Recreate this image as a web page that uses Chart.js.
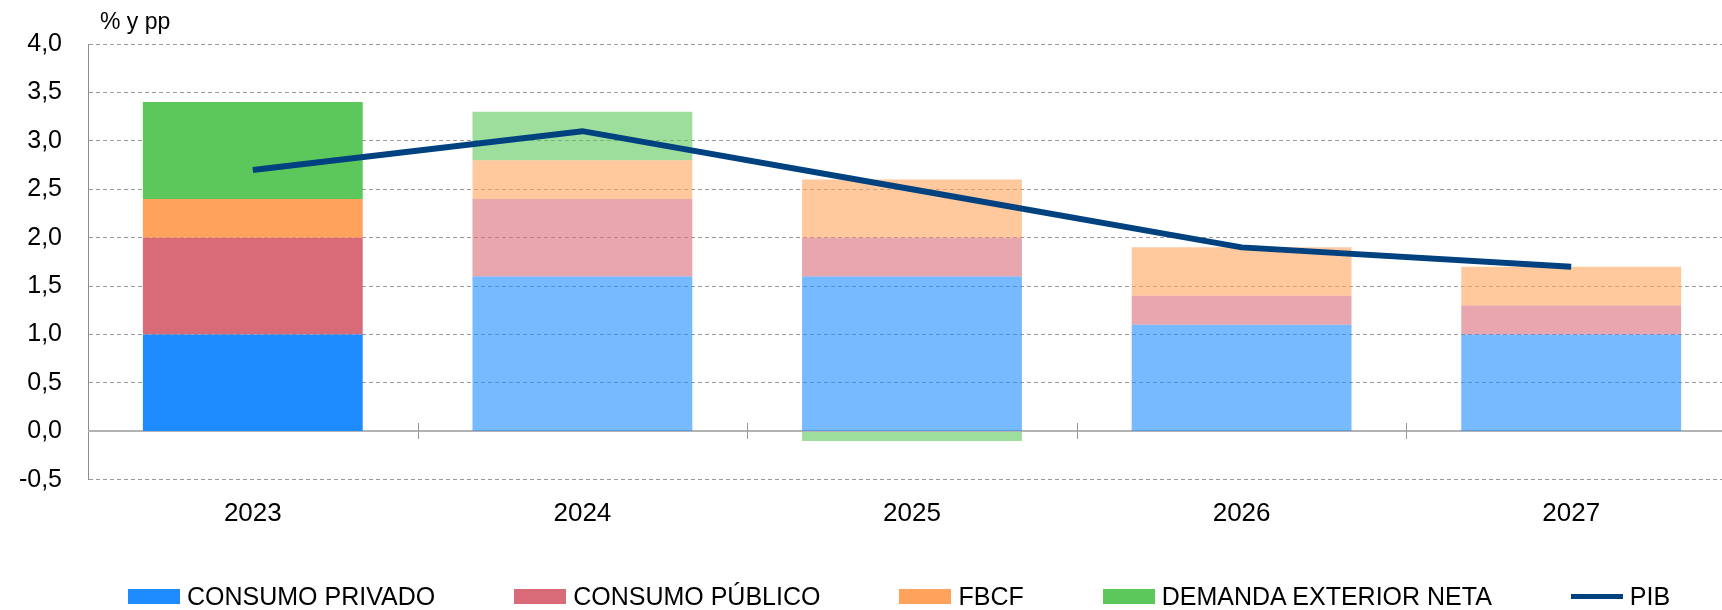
<!DOCTYPE html>
<html>
<head>
<meta charset="utf-8">
<script src="https://cdn.jsdelivr.net/npm/chart.js@4.4.0/dist/chart.umd.min.js"></script>
<style>
  html, body { margin: 0; padding: 0; background: #fff; overflow: hidden; }
  #wrap { position: relative; width: 1722px; height: 610px; overflow: hidden; }
  canvas { position: absolute; left: 0; top: 0; }
  #legend { position: absolute; left: 128px; top: 584px; display: flex; align-items: center;
            font: 25px "Liberation Sans", Arial, sans-serif; line-height: 25px; color: #000; white-space: nowrap; }
  .item { display: flex; align-items: center; margin-right: 79px; }
  .swatch { width: 52px; height: 15px; margin-right: 7px; }
  .swatch.line { height: 5px; }
</style>
</head>
<body>
<div id="wrap">
  <canvas id="chart" width="1745" height="610"></canvas>
  <div id="legend"></div>
</div>
<script>
// contributions to growth, % y pp
const years = ['2023', '2024', '2025', '2026', '2027'];
const consumoPrivado = [1.0, 1.6, 1.6, 1.1, 1.0];
const consumoPublico = [1.0, 0.8, 0.4, 0.3, 0.3];
const fbcf = [0.4, 0.4, 0.6, 0.5, 0.4];
const demandaExterior = [1.0, 0.5, -0.1, 0, 0];
const pib = [2.7, 3.1, 2.5, 1.9, 1.7];

const FONT = '"Liberation Sans", Arial, sans-serif';

// first year solid, projections lighter (see-through)
const shade = (rgb) => years.map((y, i) => i === 0 ? `rgb(${rgb})` : `rgba(${rgb},0.6)`);

const barSeries = [
  { label: 'CONSUMO PRIVADO', data: consumoPrivado, rgb: '30,140,255' },
  { label: 'CONSUMO PÚBLICO', data: consumoPublico, rgb: '217,107,120' },
  { label: 'FBCF', data: fbcf, rgb: '255,163,92' },
  { label: 'DEMANDA EXTERIOR NETA', data: demandaExterior, rgb: '92,200,92' },
];
const pibColor = '#00417f';

const datasets = barSeries.map(s => ({
  type: 'bar',
  label: s.label,
  data: s.data,
  backgroundColor: shade(s.rgb),
  borderWidth: 0,
  barPercentage: 0.667,
  categoryPercentage: 1,
  order: 2,
}));
datasets.push({
  type: 'line',
  label: 'PIB',
  data: pib,
  borderColor: pibColor,
  borderWidth: 6,
  pointRadius: 0,
  tension: 0,
  fill: false,
  borderJoinStyle: 'miter',
  order: 1,
});

const extras = {
  id: 'extras',
  beforeDatasetsDraw(chart) {
    const { ctx, chartArea, scales: { x, y } } = chart;
    const y0 = Math.round(y.getPixelForValue(0));
    ctx.save();
    ctx.strokeStyle = '#b3b3b3';
    ctx.lineWidth = 2;
    ctx.beginPath();
    ctx.moveTo(chartArea.left, y0);
    ctx.lineTo(chartArea.right, y0);
    ctx.stroke();
    // small separators between years on the zero line
    ctx.strokeStyle = '#999';
    ctx.lineWidth = 1;
    for (let i = 1; i < years.length; i++) {
      const xb = Math.round((x.getPixelForValue(i - 1) + x.getPixelForValue(i)) / 2) + 0.5;
      ctx.beginPath();
      ctx.moveTo(xb, y0 - 8);
      ctx.lineTo(xb, y0 + 8);
      ctx.stroke();
    }
    ctx.restore();
  },
  afterDraw(chart) {
    const { ctx, chartArea } = chart;
    ctx.save();
    ctx.font = '23px ' + FONT;
    ctx.fillStyle = '#000';
    ctx.textBaseline = 'alphabetic';
    ctx.fillText('% y pp', chartArea.left + 12, 29);
    ctx.restore();
  }
};

new Chart(document.getElementById('chart'), {
  data: { labels: years, datasets },
  options: {
    responsive: false,
    animation: false,
    layout: { padding: { left: 19, right: 9, top: 44, bottom: 63 } },
    plugins: { legend: { display: false }, tooltip: { enabled: false } },
    scales: {
      x: {
        stacked: true,
        grid: { display: false, drawTicks: false },
        border: { display: false },
        ticks: { color: '#000', font: { family: FONT, size: 26 }, padding: 18 },
      },
      y: {
        stacked: true,
        min: -0.5,
        max: 4,
        afterFit: (scale) => { scale.width = 69; },
        grid: { color: '#999', lineWidth: 1, drawTicks: false },
        border: { display: true, color: '#8c8c8c', width: 1, dash: [4, 3] },
        ticks: {
          stepSize: 0.5,
          color: '#000',
          font: { family: FONT, size: 25 },
          padding: 26,
          callback: v => v.toFixed(1).replace('.', ','),
        },
      },
    },
  },
  plugins: [extras],
});

// legend
const legend = document.getElementById('legend');
barSeries.forEach(s => {
  legend.insertAdjacentHTML('beforeend',
    `<div class="item"><div class="swatch" style="background:rgb(${s.rgb})"></div>${s.label}</div>`);
});
legend.insertAdjacentHTML('beforeend',
  `<div class="item"><div class="swatch line" style="background:${pibColor}"></div>PIB</div>`);
</script>
</body>
</html>
